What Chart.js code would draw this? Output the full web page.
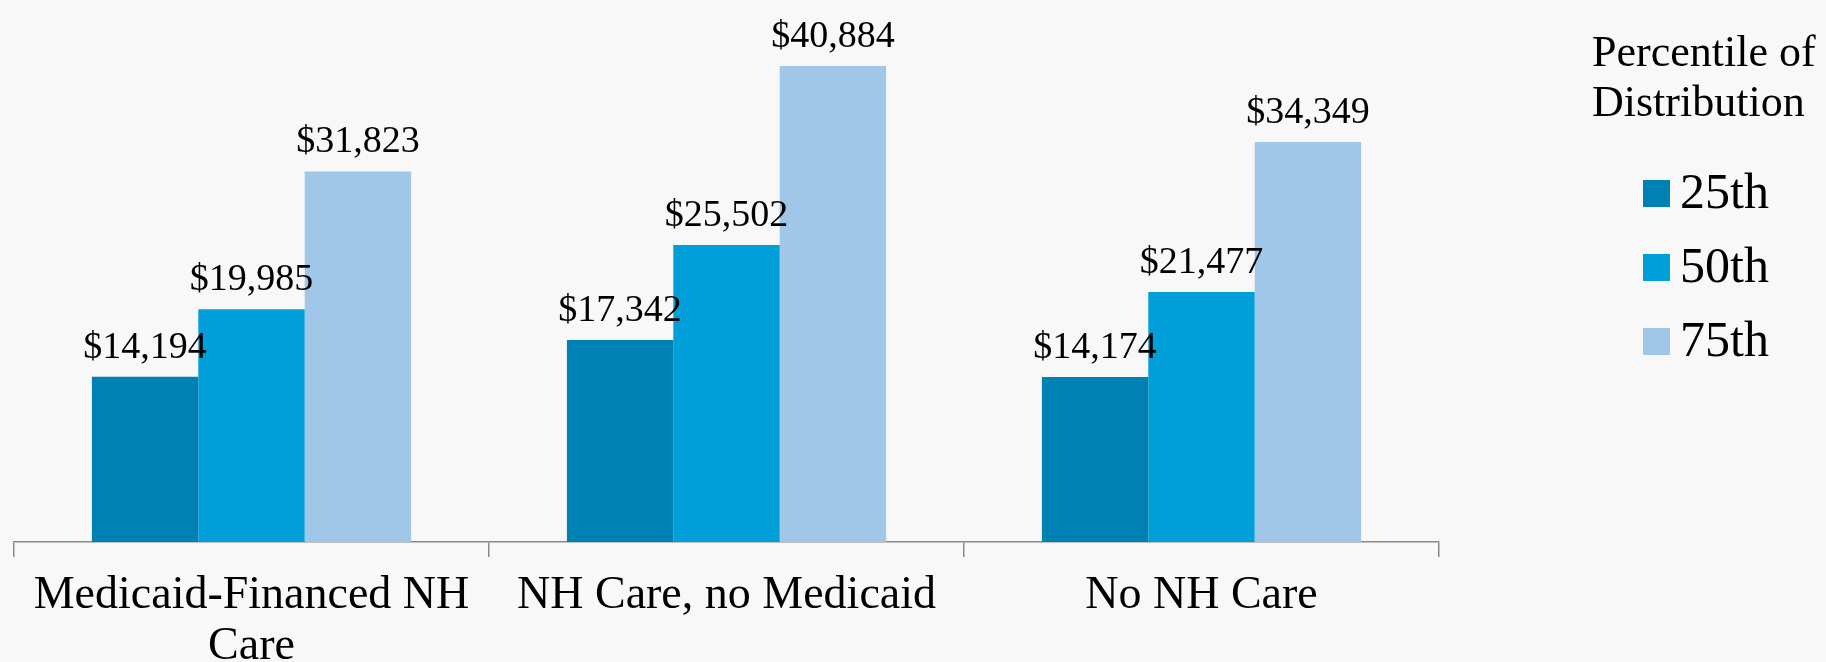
<!DOCTYPE html>
<html>
<head>
<meta charset="utf-8">
<script src="https://cdn.jsdelivr.net/npm/chart.js@4"></script>
<style>
  html, body { margin: 0; padding: 0; background: #f8f8f8; overflow: hidden; }
  #wrap { width: 1826px; height: 662px; position: relative; }
</style>
</head>
<body>
<div id="wrap"><canvas id="grafico" width="1826" height="662"></canvas></div>
<script>
// Dados do gráfico
const categorias = [['Medicaid-Financed NH', 'Care'], 'NH Care, no Medicaid', 'No NH Care'];
const rotulosSerie = ['25th', '50th', '75th'];
const p25 = [14194, 17342, 14174];
const p50 = [19985, 25502, 21477];
const p75 = [31823, 40884, 34349];
const coresSerie = ['#0081b4', '#009fda', '#a1c7e8'];
const tituloLegenda = ['Percentile of', 'Distribution'];

const fonte = '"Liberation Serif", "Times New Roman", serif';

function formatarDolar(v) {
    return '$' + v.toLocaleString('en-US');
}

// Rótulos de valor acima das barras
const rotulosValor = {
    id: 'rotulosValor',
    afterDatasetsDraw(chart) {
        const ctx = chart.ctx;
        ctx.save();
        ctx.fillStyle = '#000';
        ctx.font = '38px ' + fonte;
        ctx.textAlign = 'center';
        ctx.textBaseline = 'alphabetic';
        chart.data.datasets.forEach((ds, i) => {
            chart.getDatasetMeta(i).data.forEach((bar, j) => {
                ctx.fillText(formatarDolar(ds.data[j]), bar.x, bar.y - 19);
            });
        });
        ctx.restore();
    }
};

// Legenda desenhada à direita
const legendaLateral = {
    id: 'legendaLateral',
    afterDraw(chart) {
        const ctx = chart.ctx;
        ctx.save();
        ctx.fillStyle = '#000';
        ctx.font = '44px ' + fonte;
        ctx.textAlign = 'left';
        ctx.textBaseline = 'middle';
        ctx.fillText(tituloLegenda[0], 1592, 54);
        ctx.fillText(tituloLegenda[1], 1592, 104);
        chart.data.datasets.forEach((ds, i) => {
            const y = 193 + i * 74;
            ctx.fillStyle = ds.backgroundColor;
            ctx.fillRect(1643, y - 13, 27, 27);
            ctx.fillStyle = '#000';
            ctx.font = '50px ' + fonte;
            ctx.fillText(ds.label, 1680, y + 2);
        });
        ctx.restore();
    }
};

const series = [p25, p50, p75];

new Chart(document.getElementById('grafico'), {
    type: 'bar',
    data: {
        labels: categorias,
        datasets: series.map((dados, i) => ({
            label: rotulosSerie[i],
            data: dados,
            backgroundColor: coresSerie[i],
            borderWidth: 0
        }))
    },
    options: {
        responsive: false,
        animation: false,
        devicePixelRatio: 1,
        categoryPercentage: 0.672,
        barPercentage: 1.0,
        layout: { padding: { left: 14, right: 387, top: 18, bottom: 0 } },
        plugins: {
            legend: { display: false },
            tooltip: { enabled: false }
        },
        scales: {
            x: {
                grid: {
                    display: true,
                    drawOnChartArea: false,
                    drawTicks: true,
                    tickLength: 15,
                    color: '#8a8a8a',
                    lineWidth: 1.5
                },
                border: { display: true, color: '#8a8a8a', width: 1.5 },
                ticks: {
                    color: '#000',
                    padding: 14,
                    maxRotation: 0,
                    autoSkip: false,
                    font: { family: fonte, size: 46, lineHeight: 1.1 }
                },
                afterFit(scale) { scale.height = 120; }
            },
            y: {
                display: false,
                min: 0,
                max: 45000
            }
        }
    },
    plugins: [rotulosValor, legendaLateral]
});
</script>
</body>
</html>
